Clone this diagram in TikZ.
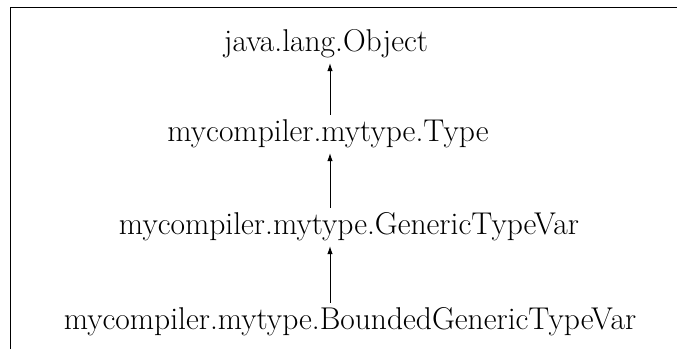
\documentclass[tikz,border=0pt]{standalone}
\usetikzlibrary{arrows.meta}
\begin{document}
\begin{tikzpicture}[x=1pt,y=1pt,
  cls/.style={anchor=base, inner sep=4pt, text height=22pt, text depth=8pt, font=\fontsize{31.5}{36}\selectfont},
  inh/.style={-{Latex[length=8pt,width=5.5pt]}, line width=0.8pt}]
\useasboundingbox (0,0) rectangle (677,-349);
\draw[line width=1pt] (10.5,-349) -- (10.5,-7.5) -- (677,-7.5);
\node[cls] (obj) at (326,-51) {java.lang.Object};
\node[cls] (typ) at (328,-141) {mycompiler.mytype.Type};
\node[cls] (gen) at (349,-234) {mycompiler.mytype.GenericTypeVar};
\node[cls] (bnd) at (350,-329) {mycompiler.mytype.BoundedGenericTypeVar};
\coordinate (ax) at (330,0);
\draw[inh] (typ.north -| ax) -- (obj.south -| ax);
\draw[inh] (gen.north -| ax) -- (typ.south -| ax);
\draw[inh] (bnd.north -| ax) -- (gen.south -| ax);
\end{tikzpicture}
\end{document}
